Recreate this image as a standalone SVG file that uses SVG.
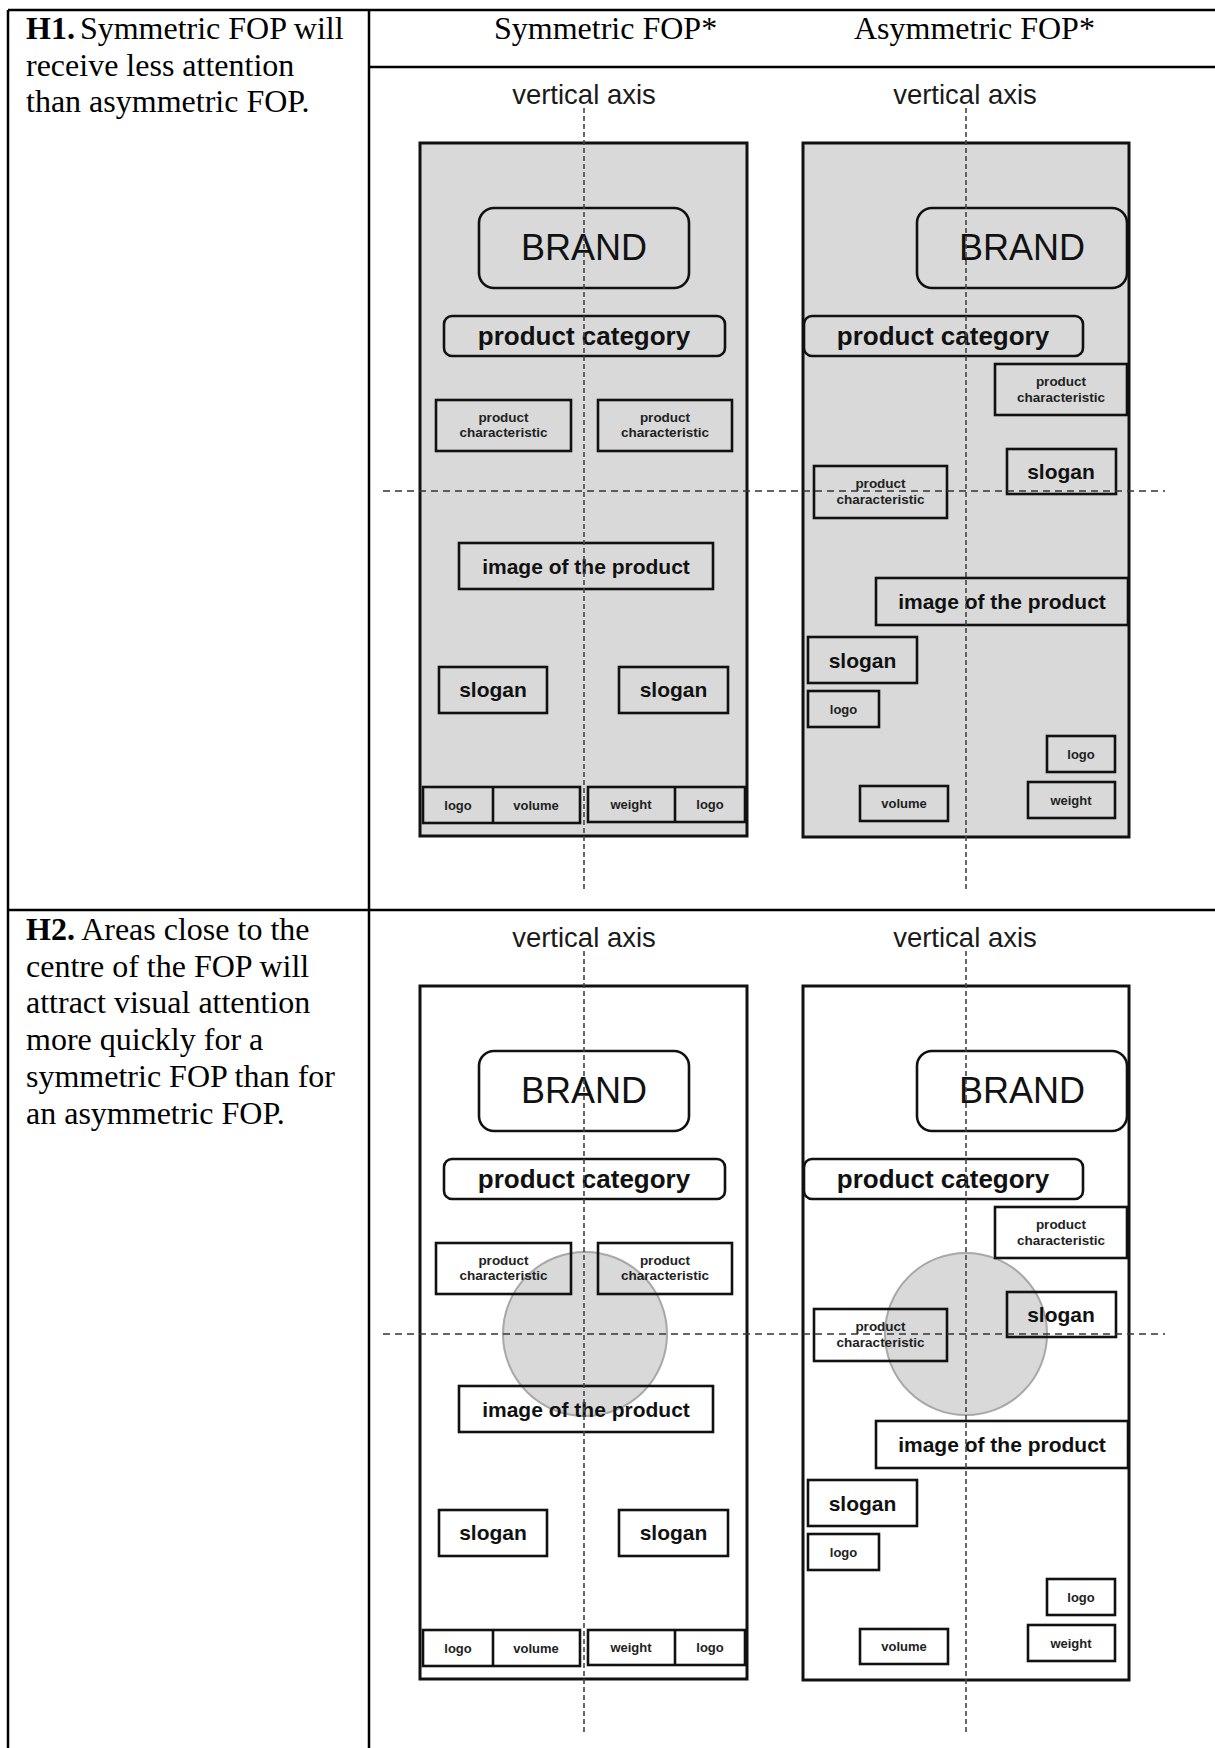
<svg xmlns="http://www.w3.org/2000/svg" width="1215" height="1748" viewBox="0 0 1215 1748">
<style>
.tl{stroke:#000;stroke-width:2.5;fill:none}
.cell{font-family:"Liberation Serif","Times New Roman",serif;font-size:32px;fill:#000}
.panel{stroke:#111;stroke-width:3}
.g{fill:#d9d9d9}
.w{fill:#fff}
.bx{fill:none;stroke:#111;stroke-width:2.6}
.t{font-family:"Liberation Sans",Arial,sans-serif;fill:#111;text-anchor:middle}
.brand{font-size:36px}
.cat{font-size:26px;font-weight:bold}
.mid{font-size:21px;font-weight:bold}
.sm{font-size:13px;font-weight:bold;fill:#222}
.pc{font-size:13.5px;font-weight:bold;fill:#222}
.ax{font-family:"Liberation Sans",Arial,sans-serif;font-size:27.5px;fill:#1a1a1a;text-anchor:middle}
.va{stroke:#444;stroke-width:1.6;stroke-dasharray:5 3;fill:none}
.ha{stroke:#333;stroke-width:1.6;stroke-dasharray:7 5;fill:none}
.circ{fill:#d9d9d9;stroke:#a8a8a8;stroke-width:2}
</style>
<rect width="1215" height="1748" fill="#fff"/>
<g id="table">
<path class="tl" d="M8 10H1215M8 10V1748M369 10V1748M369 67H1215M8 910H1215"/>
</g>
<g id="cell-texts">
<text class="cell" x="26" y="39"><tspan font-weight="bold">H1.</tspan><tspan dx="-3"> Symmetric FOP will</tspan></text>
<text class="cell" x="26" y="75.7">receive less attention</text>
<text class="cell" x="26" y="112.4">than asymmetric FOP.</text>
<text class="cell" x="494" y="39">Symmetric FOP*</text>
<text class="cell" x="854" y="39">Asymmetric FOP*</text>
<text class="cell" x="26" y="940"><tspan font-weight="bold">H2.</tspan> Areas close to the</text>
<text class="cell" x="26" y="976.7">centre of the FOP will</text>
<text class="cell" x="26" y="1013.4">attract visual attention</text>
<text class="cell" x="26" y="1050.1">more quickly for a</text>
<text class="cell" x="26" y="1086.8">symmetric FOP than for</text>
<text class="cell" x="26" y="1123.5">an asymmetric FOP.</text>
</g>

<!-- H1 row -->
<g id="h1-symmetric">
<rect class="panel g" x="420" y="143" width="327" height="693"/>
<g id="h1-sym-brand"><rect class="bx" x="479" y="208" width="210" height="80" rx="15"/><text class="t brand" x="584" y="260">BRAND</text></g>
<g id="h1-sym-category"><rect class="bx" x="444" y="316" width="281" height="40" rx="8"/><text class="t cat" x="584" y="345">product category</text></g>
<g id="h1-sym-char1"><rect class="bx" x="436" y="400" width="135" height="51"/><text class="t pc" x="503.5" y="422">product</text><text class="t pc" x="503.5" y="437">characteristic</text></g>
<g id="h1-sym-char2"><rect class="bx" x="598" y="400" width="134" height="51"/><text class="t pc" x="665" y="422">product</text><text class="t pc" x="665" y="437">characteristic</text></g>
<g id="h1-sym-image"><rect class="bx" x="459" y="543" width="254" height="46"/><text class="t mid" x="586" y="574">image of the product</text></g>
<g id="h1-sym-slogan1"><rect class="bx" x="439" y="667" width="108" height="46"/><text class="t mid" x="493" y="697">slogan</text></g>
<g id="h1-sym-slogan2"><rect class="bx" x="619" y="667" width="109" height="46"/><text class="t mid" x="673.5" y="697">slogan</text></g>
<g id="h1-sym-bottom1"><rect class="bx" x="423" y="787" width="157" height="36"/><path class="bx" d="M493 787V823"/><text class="t sm" x="458" y="810">logo</text><text class="t sm" x="536" y="810">volume</text></g>
<g id="h1-sym-bottom2"><rect class="bx" x="588" y="787" width="157" height="35"/><path class="bx" d="M675 787V822"/><text class="t sm" x="631" y="809">weight</text><text class="t sm" x="710" y="809">logo</text></g>
</g>
<g id="h1-asymmetric">
<rect class="panel g" x="803" y="143" width="326" height="694"/>
<g id="h1-asy-brand"><rect class="bx" x="917" y="208" width="210" height="80" rx="15"/><text class="t brand" x="1022" y="260">BRAND</text></g>
<g id="h1-asy-category"><rect class="bx" x="804" y="316" width="279" height="40" rx="8"/><text class="t cat" x="943" y="345">product category</text></g>
<g id="h1-asy-char1"><rect class="bx" x="995" y="364" width="132" height="51"/><text class="t pc" x="1061" y="386">product</text><text class="t pc" x="1061" y="402">characteristic</text></g>
<g id="h1-asy-slogan1"><rect class="bx" x="1007" y="449" width="109" height="45"/><text class="t mid" x="1061" y="479">slogan</text></g>
<g id="h1-asy-char2"><rect class="bx" x="814" y="466" width="133" height="52"/><text class="t pc" x="880.5" y="488">product</text><text class="t pc" x="880.5" y="504">characteristic</text></g>
<g id="h1-asy-image"><rect class="bx" x="876" y="578" width="252" height="47"/><text class="t mid" x="1002" y="609">image of the product</text></g>
<g id="h1-asy-slogan2"><rect class="bx" x="808" y="637" width="109" height="46"/><text class="t mid" x="862.5" y="668">slogan</text></g>
<g id="h1-asy-logo1"><rect class="bx" x="808" y="691" width="71" height="36"/><text class="t sm" x="843.5" y="713.5">logo</text></g>
<g id="h1-asy-logo2"><rect class="bx" x="1047" y="736" width="68" height="36"/><text class="t sm" x="1081" y="758.5">logo</text></g>
<g id="h1-asy-weight"><rect class="bx" x="1028" y="782" width="87" height="36"/><text class="t sm" x="1071" y="805">weight</text></g>
<g id="h1-asy-volume"><rect class="bx" x="860" y="786" width="88" height="35"/><text class="t sm" x="904" y="807.5">volume</text></g>
</g>
<g id="h1-axes">
<text class="ax" x="584" y="104">vertical axis</text>
<text class="ax" x="965" y="104">vertical axis</text>
<path class="va" d="M584 108V890M966 108V890"/>
<path class="ha" d="M383 491H1165"/>
</g>

<!-- H2 row -->
<g id="h2-symmetric" transform="translate(0,843)">
<rect class="panel w" x="420" y="143" width="327" height="693"/>
<circle class="circ" cx="585" cy="491" r="82"/>
<g id="h2-sym-brand"><rect class="bx" x="479" y="208" width="210" height="80" rx="15"/><text class="t brand" x="584" y="260">BRAND</text></g>
<g id="h2-sym-category"><rect class="bx" x="444" y="316" width="281" height="40" rx="8"/><text class="t cat" x="584" y="345">product category</text></g>
<g id="h2-sym-char1"><rect class="bx" x="436" y="400" width="135" height="51"/><text class="t pc" x="503.5" y="422">product</text><text class="t pc" x="503.5" y="437">characteristic</text></g>
<g id="h2-sym-char2"><rect class="bx" x="598" y="400" width="134" height="51"/><text class="t pc" x="665" y="422">product</text><text class="t pc" x="665" y="437">characteristic</text></g>
<g id="h2-sym-image"><rect class="bx" x="459" y="543" width="254" height="46"/><text class="t mid" x="586" y="574">image of the product</text></g>
<g id="h2-sym-slogan1"><rect class="bx" x="439" y="667" width="108" height="46"/><text class="t mid" x="493" y="697">slogan</text></g>
<g id="h2-sym-slogan2"><rect class="bx" x="619" y="667" width="109" height="46"/><text class="t mid" x="673.5" y="697">slogan</text></g>
<g id="h2-sym-bottom1"><rect class="bx" x="423" y="787" width="157" height="36"/><path class="bx" d="M493 787V823"/><text class="t sm" x="458" y="810">logo</text><text class="t sm" x="536" y="810">volume</text></g>
<g id="h2-sym-bottom2"><rect class="bx" x="588" y="787" width="157" height="35"/><path class="bx" d="M675 787V822"/><text class="t sm" x="631" y="809">weight</text><text class="t sm" x="710" y="809">logo</text></g>
</g>
<g id="h2-asymmetric" transform="translate(0,843)">
<rect class="panel w" x="803" y="143" width="326" height="694"/>
<circle class="circ" cx="966" cy="491" r="81"/>
<g id="h2-asy-brand"><rect class="bx" x="917" y="208" width="210" height="80" rx="15"/><text class="t brand" x="1022" y="260">BRAND</text></g>
<g id="h2-asy-category"><rect class="bx" x="804" y="316" width="279" height="40" rx="8"/><text class="t cat" x="943" y="345">product category</text></g>
<g id="h2-asy-char1"><rect class="bx" x="995" y="364" width="132" height="51"/><text class="t pc" x="1061" y="386">product</text><text class="t pc" x="1061" y="402">characteristic</text></g>
<g id="h2-asy-slogan1"><rect class="bx" x="1007" y="449" width="109" height="45"/><text class="t mid" x="1061" y="479">slogan</text></g>
<g id="h2-asy-char2"><rect class="bx" x="814" y="466" width="133" height="52"/><text class="t pc" x="880.5" y="488">product</text><text class="t pc" x="880.5" y="504">characteristic</text></g>
<g id="h2-asy-image"><rect class="bx" x="876" y="578" width="252" height="47"/><text class="t mid" x="1002" y="609">image of the product</text></g>
<g id="h2-asy-slogan2"><rect class="bx" x="808" y="637" width="109" height="46"/><text class="t mid" x="862.5" y="668">slogan</text></g>
<g id="h2-asy-logo1"><rect class="bx" x="808" y="691" width="71" height="36"/><text class="t sm" x="843.5" y="713.5">logo</text></g>
<g id="h2-asy-logo2"><rect class="bx" x="1047" y="736" width="68" height="36"/><text class="t sm" x="1081" y="758.5">logo</text></g>
<g id="h2-asy-weight"><rect class="bx" x="1028" y="782" width="87" height="36"/><text class="t sm" x="1071" y="805">weight</text></g>
<g id="h2-asy-volume"><rect class="bx" x="860" y="786" width="88" height="35"/><text class="t sm" x="904" y="807.5">volume</text></g>
</g>
<g id="h2-axes" transform="translate(0,843)">
<text class="ax" x="584" y="104">vertical axis</text>
<text class="ax" x="965" y="104">vertical axis</text>
<path class="va" d="M584 108V890M966 108V890"/>
<path class="ha" d="M383 491H1165"/>
</g>
</svg>
